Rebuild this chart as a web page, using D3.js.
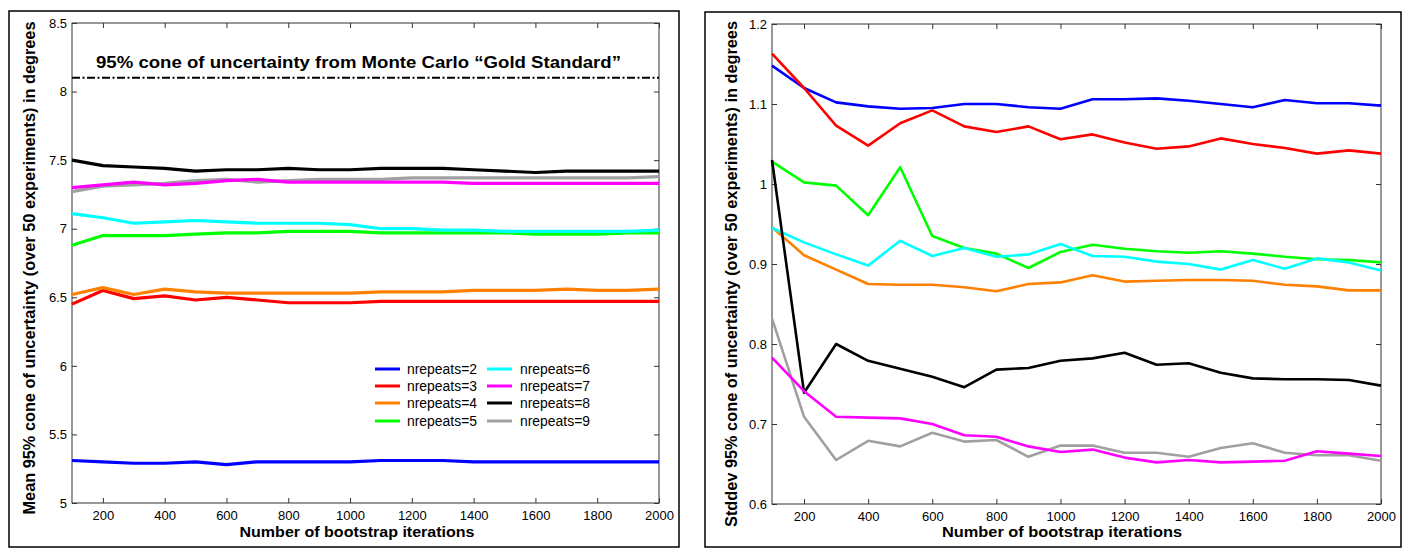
<!DOCTYPE html>
<html><head><meta charset="utf-8">
<script src="https://cdn.jsdelivr.net/npm/d3@7"></script>
<style>
body{margin:0;background:#fff;}
svg{display:block;}
</style></head>
<body>
<svg id="chart" width="1409" height="548"></svg>
<script>
// ---------- data ----------
const iterations = [100,200,300,400,500,600,700,800,900,1000,1100,1200,1300,1400,1500,1600,1700,1800,1900,2000];
const seriesNames = ["nrepeats=2","nrepeats=3","nrepeats=4","nrepeats=5","nrepeats=6","nrepeats=7","nrepeats=8","nrepeats=9"];
const seriesColors = ["#0000ff","#ff0000","#ff8000","#00ff00","#00ffff","#ff00ff","#000000","#a0a0a0"];
const xTicks = [200,400,600,800,1000,1200,1400,1600,1800,2000];
const meanTicks = [5,5.5,6,6.5,7,7.5,8,8.5];
const stdTicks = [0.6,0.7,0.8,0.9,1,1.1,1.2];
const goldStandard = 8.1;

// Mean 95% cone (left panel)
const mean2 = [5.31,5.30,5.29,5.29,5.30,5.28,5.30,5.30,5.30,5.30,5.31,5.31,5.31,5.30,5.30,5.30,5.30,5.30,5.30,5.30];
const mean3 = [6.45,6.55,6.49,6.51,6.48,6.50,6.48,6.46,6.46,6.46,6.47,6.47,6.47,6.47,6.47,6.47,6.47,6.47,6.47,6.47];
const mean4 = [6.52,6.57,6.52,6.56,6.54,6.53,6.53,6.53,6.53,6.53,6.54,6.54,6.54,6.55,6.55,6.55,6.56,6.55,6.55,6.56];
const mean5 = [6.88,6.95,6.95,6.95,6.96,6.97,6.97,6.98,6.98,6.98,6.97,6.97,6.97,6.97,6.97,6.96,6.96,6.96,6.97,6.97];
const mean6 = [7.11,7.08,7.04,7.05,7.06,7.05,7.04,7.04,7.04,7.03,7.00,7.00,6.99,6.99,6.98,6.98,6.98,6.98,6.98,6.99];
const mean7 = [7.30,7.32,7.34,7.32,7.33,7.35,7.36,7.34,7.34,7.34,7.34,7.34,7.34,7.33,7.33,7.33,7.33,7.33,7.33,7.33];
const mean8 = [7.50,7.46,7.45,7.44,7.42,7.43,7.43,7.44,7.43,7.43,7.44,7.44,7.44,7.43,7.42,7.41,7.42,7.42,7.42,7.42];
const mean9 = [7.27,7.31,7.32,7.33,7.35,7.36,7.34,7.35,7.36,7.36,7.36,7.37,7.37,7.37,7.37,7.37,7.37,7.37,7.37,7.38];

// Stddev 95% cone (right panel)
const std2 = [1.148,1.120,1.102,1.097,1.094,1.095,1.100,1.100,1.096,1.094,1.106,1.106,1.107,1.104,1.100,1.096,1.105,1.101,1.101,1.098];
const std3 = [1.163,1.120,1.073,1.048,1.076,1.092,1.072,1.065,1.072,1.056,1.062,1.052,1.044,1.047,1.057,1.050,1.045,1.038,1.042,1.038];
const std4 = [0.946,0.911,0.893,0.875,0.874,0.874,0.871,0.866,0.875,0.877,0.886,0.878,0.879,0.880,0.880,0.879,0.874,0.872,0.867,0.867];
const std5 = [1.028,1.002,0.998,0.961,1.021,0.935,0.920,0.913,0.895,0.915,0.924,0.919,0.916,0.914,0.916,0.913,0.909,0.906,0.905,0.902];
const std6 = [0.945,0.927,0.912,0.898,0.929,0.910,0.920,0.909,0.912,0.925,0.910,0.909,0.903,0.900,0.893,0.905,0.894,0.907,0.902,0.892];
const std7 = [0.783,0.741,0.709,0.708,0.707,0.700,0.686,0.684,0.672,0.665,0.668,0.658,0.652,0.655,0.652,0.653,0.654,0.666,0.663,0.660];
const std8 = [1.030,0.739,0.800,0.779,0.769,0.759,0.746,0.768,0.770,0.779,0.782,0.789,0.774,0.776,0.764,0.757,0.756,0.756,0.755,0.748];
const std9 = [0.832,0.709,0.655,0.679,0.672,0.689,0.678,0.680,0.659,0.673,0.673,0.664,0.664,0.659,0.670,0.676,0.664,0.661,0.661,0.654];

const meanSeries = [mean2,mean3,mean4,mean5,mean6,mean7,mean8,mean9];
const stdSeries = [std2,std3,std4,std5,std6,std7,std8,std9];

// ---------- drawing ----------
const svg = d3.select("#chart");
const FONT = "'Liberation Sans',Arial,Helvetica,sans-serif";

function panel(opt){
  const g = svg.append("g");
  // outer frame
  g.append("rect").attr("x",opt.frame[0]).attr("y",opt.frame[1])
    .attr("width",opt.frame[2]-opt.frame[0]).attr("height",opt.frame[3]-opt.frame[1])
    .attr("fill","none").attr("stroke","#000").attr("stroke-width",1.5);

  const x = d3.scaleLinear().domain([100,2000]).range([opt.plot[0],opt.plot[2]]);
  const y = d3.scaleLinear().domain(opt.yDomain).range([opt.plot[3],opt.plot[1]]);

  // plot box
  g.append("rect").attr("x",opt.plot[0]).attr("y",opt.plot[1])
    .attr("width",opt.plot[2]-opt.plot[0]).attr("height",opt.plot[3]-opt.plot[1])
    .attr("fill","none").attr("stroke","#333").attr("stroke-width",1);

  const tl = 5;
  const styleAxis = sel => {
    sel.select(".domain").remove();
    sel.selectAll(".tick line").attr("stroke","#333");
    sel.selectAll(".tick text").attr("font-family",FONT).attr("font-size",13).attr("fill","#000");
  };
  g.append("g").attr("transform",`translate(0,${opt.plot[3]})`)
    .call(d3.axisBottom(x).tickValues(xTicks).tickSizeInner(-tl).tickSizeOuter(0).tickPadding(8).tickFormat(d3.format("d")))
    .call(styleAxis);
  g.append("g").attr("transform",`translate(0,${opt.plot[1]})`)
    .call(d3.axisTop(x).tickValues(xTicks).tickSizeInner(-tl).tickSizeOuter(0).tickFormat(""))
    .call(styleAxis);
  g.append("g").attr("transform",`translate(${opt.plot[0]},0)`)
    .call(d3.axisLeft(y).tickValues(opt.yTicks).tickSizeInner(-tl).tickSizeOuter(0).tickPadding(5).tickFormat(d=>String(d)))
    .call(styleAxis);
  g.append("g").attr("transform",`translate(${opt.plot[2]},0)`)
    .call(d3.axisRight(y).tickValues(opt.yTicks).tickSizeInner(-tl).tickSizeOuter(0).tickFormat(""))
    .call(styleAxis);

  if(opt.gold){
    g.append("line").attr("x1",x(100)).attr("x2",x(2000))
      .attr("y1",y(goldStandard)).attr("y2",y(goldStandard))
      .attr("stroke","#000").attr("stroke-width",2).attr("stroke-dasharray","8,2.5,2,2.5");
    g.append("text").attr("x",96).attr("y",68)
      .attr("font-family",FONT).attr("font-size",17).attr("font-weight","bold")
      .attr("textLength",525).attr("lengthAdjust","spacingAndGlyphs")
      .text("95% cone of uncertainty from Monte Carlo \u201CGold Standard\u201D");
  }

  const line = d3.line().x((d,i)=>x(iterations[i])).y(d=>y(d));
  opt.order.forEach(k=>{
    g.append("path").datum(opt.series[k]).attr("d",line)
      .attr("fill","none").attr("stroke",seriesColors[k]).attr("stroke-width",opt.lw)
      .attr("stroke-linejoin","round");
  });

  // axis labels
  g.append("text").attr("transform",`translate(${opt.ylab[0]},${opt.ylab[1]}) rotate(-90)`)
    .attr("text-anchor","middle").attr("font-family",FONT).attr("font-weight","bold").attr("font-size",16)
    .attr("textLength",opt.ylab[2]).attr("lengthAdjust","spacingAndGlyphs")
    .text(opt.ylabel);
  g.append("text").attr("x",opt.xlab[0]).attr("y",opt.xlab[1])
    .attr("text-anchor","middle").attr("font-family",FONT).attr("font-weight","bold").attr("font-size",15)
    .attr("textLength",opt.xlab[2]).attr("lengthAdjust","spacingAndGlyphs")
    .text("Number of bootstrap iterations");

  if(opt.legend){
    const cols = [[375,407],[487,520]];
    const rows = [369,386,403,421];
    seriesNames.forEach((name,i)=>{
      const c = cols[Math.floor(i/4)], r = rows[i%4];
      g.append("line").attr("x1",c[0]).attr("x2",c[0]+25).attr("y1",r).attr("y2",r)
        .attr("stroke",seriesColors[i]).attr("stroke-width",3);
      g.append("text").attr("x",c[1]).attr("y",r+5).attr("font-family",FONT).attr("font-size",14)
        .attr("textLength",70).attr("lengthAdjust","spacingAndGlyphs").text(name);
    });
  }
}

panel({
  frame:[9,11,679,547], plot:[72,23,659,503], yDomain:[5,8.5], yTicks:meanTicks,
  series:meanSeries, gold:true, legend:true, lw:3.2,
  order:[0,1,2,3,4,7,5,6],
  ylab:[35,268,493], ylabel:"Mean 95% cone of uncertainty (over 50 experiments) in degrees",
  xlab:[357,537,235]
});
panel({
  frame:[705,12,1401,547], plot:[772,24,1381,504], yDomain:[0.6,1.2], yTicks:stdTicks,
  series:stdSeries, gold:false, legend:false, lw:2.6,
  order:[0,1,2,3,4,6,7,5],
  ylab:[737,274,506], ylabel:"Stddev 95% cone of uncertainty (over 50 experiments) in degrees",
  xlab:[1062,537,240]
});
</script>
</body></html>
